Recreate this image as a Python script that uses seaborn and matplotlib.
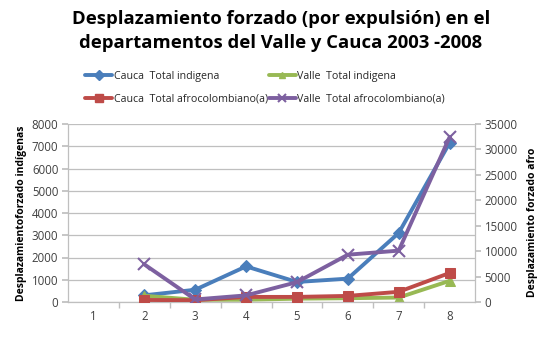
import numpy as np
import pandas as pd
import matplotlib
matplotlib.use("Agg")
import matplotlib.pyplot as plt
import seaborn as sns
from matplotlib.lines import Line2D

categories = [1, 2, 3, 4, 5, 6, 7, 8]
cauca_indigena = [np.nan, 300, 550, 1600, 900, 1050, 3100, 7150]
valle_indigena = [np.nan, 280, 100, 100, 150, 170, 200, 950]
cauca_afro = [np.nan, 400, 350, 1000, 1000, 1200, 2000, 5700]
valle_afro = [np.nan, 7400, 500, 1300, 3900, 9300, 10100, 32400]

labels = ["Cauca  Total indigena", "Valle  Total indigena",
          "Cauca  Total afrocolombiano(a)", "Valle  Total afrocolombiano(a)"]
left_ticks = [0, 1000, 2000, 3000, 4000, 5000, 6000, 7000, 8000]
right_ticks = [0, 5000, 10000, 15000, 20000, 25000, 30000, 35000]

sns.set_theme(style="white")
plt.rcParams['font.family'] = ['Open Sans', 'DejaVu Sans']

c_blue, c_green, c_red, c_purple = "#4A7EBB", "#98B954", "#BE4B48", "#7D60A0"

fig = plt.figure(figsize=(5.44, 3.40), dpi=100)
ax = fig.add_axes([68/544, 1-302/340, (475-68)/544, (302-124)/340])
ax2 = ax.twinx()

df = pd.DataFrame({"x": categories, "ci": cauca_indigena, "vi": valle_indigena,
                   "ca": cauca_afro, "va": valle_afro})

lw = 2.8
sns.lineplot(data=df, x="x", y="ci", ax=ax, color=c_blue, marker="D", markersize=6.5,
             markeredgecolor=c_blue, linewidth=lw)
sns.lineplot(data=df, x="x", y="vi", ax=ax, color=c_green, marker="^", markersize=6.5,
             markeredgecolor=c_green, linewidth=lw)
sns.lineplot(data=df, x="x", y="ca", ax=ax2, color=c_red, marker="s", markersize=7.5,
             markeredgecolor=c_red, linewidth=lw)
sns.lineplot(data=df, x="x", y="va", ax=ax2, color=c_purple, marker="x", markersize=9,
             markeredgecolor=c_purple, markeredgewidth=1.5, linewidth=lw)

ax.set_xlim(0.5, 8.5)
ax.set_ylim(0, 8000)
ax2.set_ylim(0, 35000)
ax.set_yticks(left_ticks)
ax2.set_yticks(right_ticks)
ax.set_xticks(categories)
ax.set_xticklabels([str(c) for c in categories])
ax.set_xticks([c + 0.5 for c in categories[:-1]], minor=True)

grid_c = "#BFBFBF"
ax.yaxis.grid(True, color=grid_c, linewidth=0.9)
ax.xaxis.grid(False)
ax2.grid(False)

for a in (ax, ax2):
    for s in a.spines.values():
        s.set_color(grid_c)
        s.set_linewidth(0.9)
    a.spines["top"].set_visible(False)
ax2.spines["left"].set_visible(False)
ax2.spines["bottom"].set_visible(False)
ax.spines["right"].set_visible(False)

tfs = 8.3
ax.tick_params(axis="y", which="major", length=4, color=grid_c, labelsize=tfs,
               labelcolor="#404040", left=True, pad=3)
ax.tick_params(axis="x", which="major", length=0, labelsize=tfs, labelcolor="#404040", pad=6)
ax.tick_params(axis="x", which="minor", length=4, color=grid_c, bottom=True)
ax2.tick_params(axis="y", length=4, color=grid_c, labelsize=tfs, labelcolor="#404040",
                right=True, pad=3)

ax.set_xlabel("")
ax.set_ylabel("Desplazamientoforzado indígenas", fontsize=7.5, fontweight="bold",
              color="black", labelpad=3)
ax2.set_ylabel("Desplazamiento forzado afro", fontsize=7.5, fontweight="bold",
               color="black", labelpad=4)
ax2.yaxis.set_label_coords(1 + 52/407, 0.45)

fig.text(281/544, 1-31/340, "Desplazamiento forzado (por expulsión) en el\ndepartamentos del Valle y Cauca 2003 -2008",
         ha="center", va="center", fontsize=13.3, fontweight="bold", color="black",
         linespacing=1.45)

handles = [
    Line2D([], [], color=c_blue, marker="D", markersize=5, linewidth=lw),
    Line2D([], [], color=c_red, marker="s", markersize=6, linewidth=lw),
    Line2D([], [], color=c_green, marker="^", markersize=5, linewidth=lw),
    Line2D([], [], color=c_purple, marker="x", markersize=6, markeredgewidth=1.5, linewidth=lw),
]
hl = [labels[0], labels[2], labels[1], labels[3]]
fig.legend(handles, hl, ncol=2, loc="center left", bbox_to_anchor=(80/544, 1-88/340),
           frameon=False, fontsize=7.7, handlelength=2.5, handletextpad=0.15,
           columnspacing=0.1, labelspacing=1.1, borderpad=0)

fig.savefig("out.png", dpi=100)
